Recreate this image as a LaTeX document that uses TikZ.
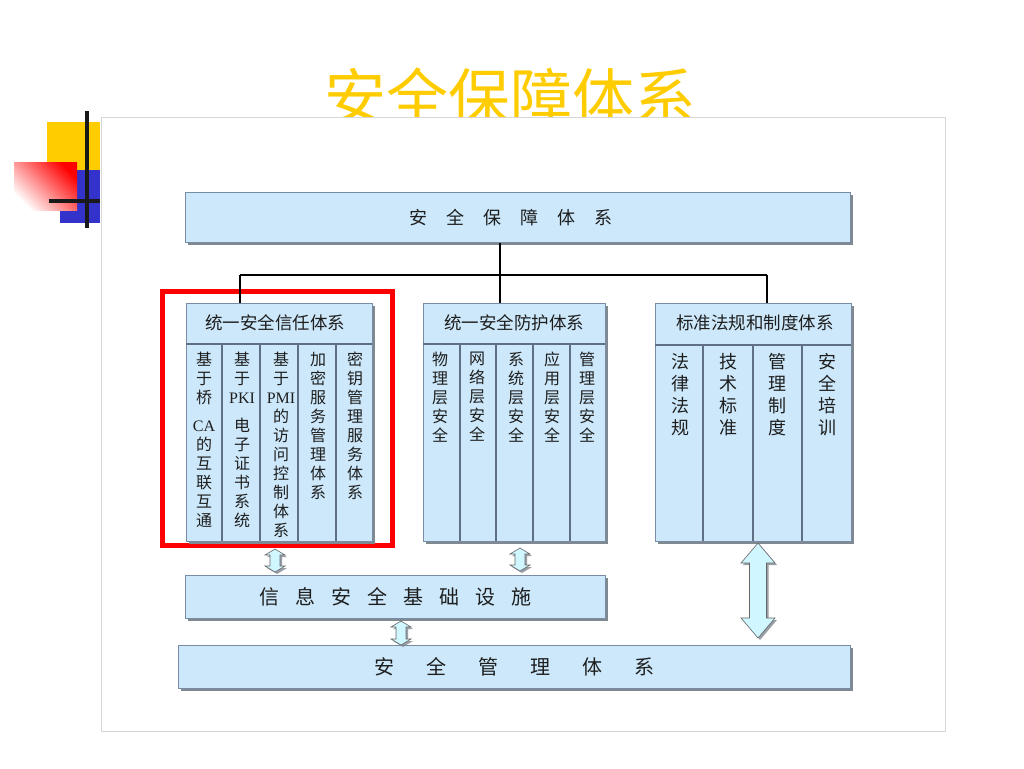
\documentclass[tikz,border=0pt]{standalone}
\usepackage{fontspec}
\setmainfont{Noto Sans CJK SC}
\newfontfamily\ser{Liberation Serif}
\usetikzlibrary{shadows,calc}
\definecolor{boxfill}{RGB}{204,232,250}
\definecolor{boxline}{RGB}{120,140,165}
\definecolor{shad}{RGB}{128,136,144}
\definecolor{titley}{RGB}{255,204,0}
\definecolor{decoblue}{RGB}{51,51,204}
\definecolor{arrfill}{RGB}{208,246,255}
\definecolor{framec}{RGB}{214,214,214}
\definecolor{txt}{RGB}{30,30,30}
\newcommand\DArrow[7]{% name, x, top, bottom, half head, half shaft, head length
  \path[arrowst] (#2,#3) -- ({#2+#5},{#3+#7}) -- ({#2+#6},{#3+#7}) -- ({#2+#6},{#4-#7}) -- ({#2+#5},{#4-#7}) -- (#2,#4) -- ({#2-#5},{#4-#7}) -- ({#2-#6},{#4-#7}) -- ({#2-#6},{#3+#7}) -- ({#2-#5},{#3+#7}) -- cycle;
  \coordinate (#1) at (#2,{(#3+#4)/2});}
\begin{document}
\begin{tikzpicture}[x=1pt,y=-1pt,
  box/.style={draw=boxline, line width=0.8pt, fill=boxfill,
    drop shadow={shadow xshift=3pt, shadow yshift=-3pt, fill=shad, opacity=1},
    inner sep=0pt, anchor=north west, text=txt},
  colline/.style={draw=boxline!80!black, line width=1.1pt},
  coltext/.style={align=center, font=\fontsize{16}{19}\selectfont, inner sep=0pt, anchor=north, text=txt},
  coltextR/.style={align=center, font=\fontsize{18}{22}\selectfont, inner sep=0pt, anchor=north, text=txt},
  headtext/.style={font=\fontsize{17.5}{18}\selectfont, inner sep=0pt, text=txt},
  conn/.style={draw=black, line width=1.6pt},
  arrowst/.style={draw=gray!80!black, line width=0.6pt, fill=arrfill,
    drop shadow={shadow xshift=2pt, shadow yshift=-2pt, fill=shad, opacity=0.8}},
  redframe/.style={draw=red, line width=5pt}
]
\useasboundingbox[fill=white] (0,0) rectangle (1024,768);

% title (partly covered by frame)
\node[text=titley, font=\fontsize{62}{62}\selectfont, inner sep=0pt] (title) at (510,97) {安全保障体系};

% frame
\draw[draw=framec, fill=white, line width=0.8pt] (101,117) rectangle (945,731);

% decoration
\fill[titley] (47,122) rectangle (100,170);
\fill[decoblue] (60,170) rectangle (100,223);
\shade[top color=red, bottom color=white, shading angle=-45] (14,162) rectangle (77,210);
\draw[line width=4pt, black!90] (87,111) -- (87,228);
\draw[line width=4pt, black!90] (49,201) -- (100,201);

% top box
\node[box, minimum width=665pt, minimum height=50pt, font=\fontsize{18}{18}\selectfont] (top) at (185,192)
  {安\hspace{19pt}全\hspace{19pt}保\hspace{19pt}障\hspace{19pt}体\hspace{19pt}系\kern14pt\relax};

% red highlight
\draw[redframe] (162,291) rectangle (392,545);

% left section
\node[box, minimum width=186pt, minimum height=238pt] (L) at (186,303) {};
\draw[colline] (186,344) -- (372,344);
\foreach \x in {222,260,298,336} \draw[colline] (\x,344) -- (\x,541);
\node[headtext] (Lh) at (275,323) {统一安全信任体系};
\node[coltext] (L1) at (204,352) {基\\于\\桥\\[9pt]{\ser CA}\\的\\互\\联\\互\\通};
\node[coltext] (L2) at (242,352) {基\\于\\{\ser PKI}\\[9pt]电\\子\\证\\书\\系\\统};
\node[coltext] (L3) at (281,352) {基\\于\\{\ser PMI}\\的\\访\\问\\控\\制\\体\\系};
\node[coltext] (L4) at (318,352) {加\\密\\服\\务\\管\\理\\体\\系};
\node[coltext] (L5) at (355,352) {密\\钥\\管\\理\\服\\务\\体\\系};

% middle section
\node[box, minimum width=182pt, minimum height=238pt] (M) at (423,303) {};
\draw[colline] (423,344) -- (605,344);
\foreach \x in {460,496,533,570} \draw[colline] (\x,344) -- (\x,541);
\node[headtext] (Mh) at (514,323) {统一安全防护体系};
\node[coltext] (M1) at (440,352) {物\\理\\层\\安\\全};
\node[coltext] (M2) at (477,352) {网\\络\\层\\安\\全};
\node[coltext] (M3) at (516,352) {系\\统\\层\\安\\全};
\node[coltext] (M4) at (552,352) {应\\用\\层\\安\\全};
\node[coltext] (M5) at (587,352) {管\\理\\层\\安\\全};

% right section
\node[box, minimum width=196pt, minimum height=238pt] (R) at (655,303) {};
\draw[colline] (655,345) -- (851,345);
\foreach \x in {703,753,802} \draw[colline] (\x,345) -- (\x,541);
\node[headtext] (Rh) at (755,323) {标准法规和制度体系};
\node[coltextR] (R1) at (680,353) {法\\律\\法\\规};
\node[coltextR] (R2) at (728,353) {技\\术\\标\\准};
\node[coltextR] (R3) at (777,353) {管\\理\\制\\度};
\node[coltextR] (R4) at (827,353) {安\\全\\培\\训};

% tree connectors
\coordinate (bar) at (500,275);
\coordinate (cL) at (240,275);
\coordinate (cR) at (767,275);
\draw[conn] (top.south -| bar) -- (bar);
\draw[conn] (cL) -- (cR);
\draw[conn] (cL) -- (cL |- L.north);
\draw[conn] (bar) -- (bar |- M.north);
\draw[conn] (cR) -- (cR |- R.north);

% infrastructure and management boxes
\node[box, minimum width=420pt, minimum height=43pt, font=\fontsize{20}{20}\selectfont] (infra) at (185,575)
  {信\hspace{16pt}息\hspace{16pt}安\hspace{16pt}全\hspace{16pt}基\hspace{16pt}础\hspace{16pt}设\hspace{16pt}施};
\node[box, minimum width=672pt, minimum height=43pt, font=\fontsize{20}{20}\selectfont] (mgmt) at (178,645)
  {安\hspace{32pt}全\hspace{32pt}管\hspace{32pt}理\hspace{32pt}体\hspace{32pt}系};

% double arrows
\DArrow{a1}{275}{549}{572}{10}{5}{6}
\DArrow{a2}{520}{548}{571}{10}{5}{6}
\DArrow{a3}{401}{621}{645}{10}{5}{6}
\DArrow{a4}{758}{543}{638}{17}{8.5}{20}
\end{tikzpicture}
\end{document}
